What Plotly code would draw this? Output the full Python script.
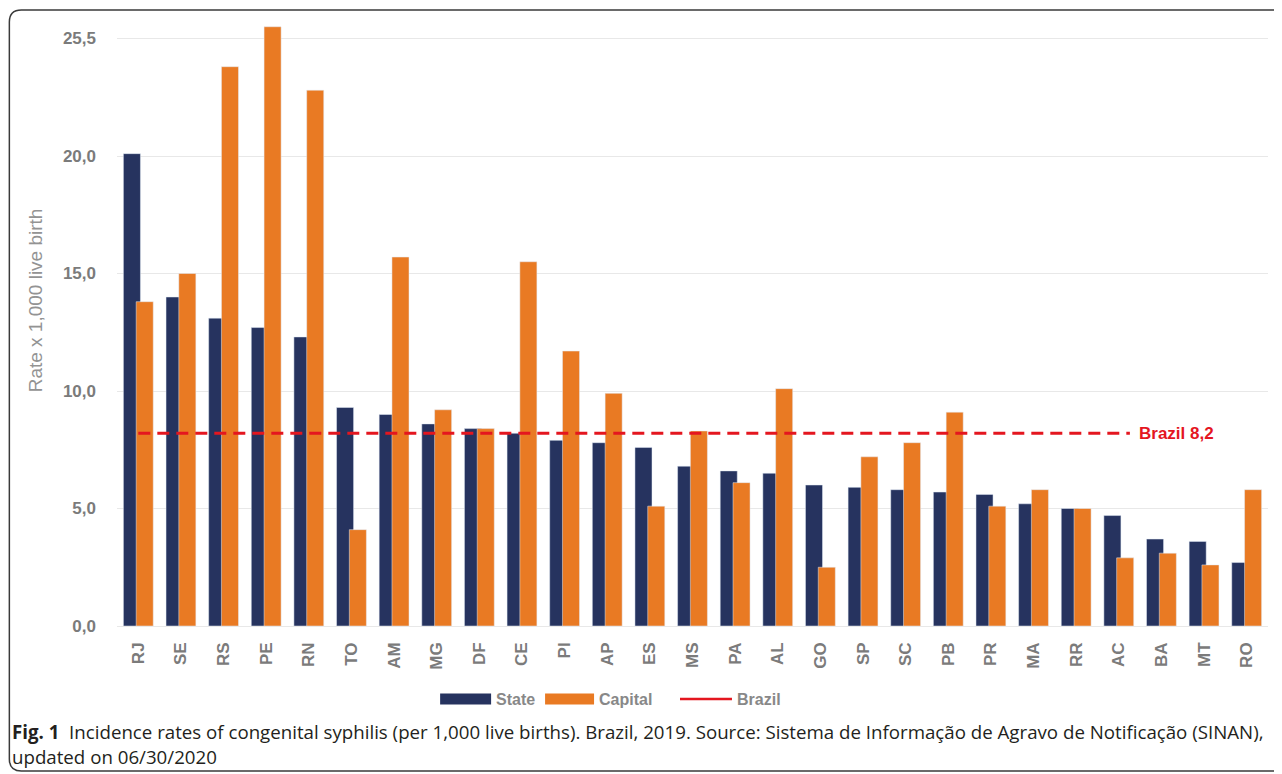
import plotly.graph_objects as go

# ---------------- data ----------------
states = ["RJ", "SE", "RS", "PE", "RN", "TO", "AM", "MG", "DF", "CE", "PI", "AP", "ES", "MS",
          "PA", "AL", "GO", "SP", "SC", "PB", "PR", "MA", "RR", "AC", "BA", "MT", "RO"]
state_rate = [20.1, 14.0, 13.1, 12.7, 12.3, 9.3, 9.0, 8.6, 8.4, 8.2, 7.9, 7.8, 7.6, 6.8,
              6.6, 6.5, 6.0, 5.9, 5.8, 5.7, 5.6, 5.2, 5.0, 4.7, 3.7, 3.6, 2.7]
capital_rate = [13.8, 15.0, 23.8, 25.5, 22.8, 4.1, 15.7, 9.2, 8.4, 15.5, 11.7, 9.9, 5.1, 8.3,
                6.1, 10.1, 2.5, 7.2, 7.8, 9.1, 5.1, 5.8, 5.0, 2.9, 3.1, 2.6, 5.8]
brazil_rate = 8.2
brazil_label = "Brazil 8,2"
ytick_vals = [0, 5, 10, 15, 20, 25]
ytick_text = ["0,0", "5,0", "10,0", "15,0", "20,0", "25,5"]
series_names = ["State", "Capital", "Brazil"]
y_title = "Rate x 1,000 live birth"
caption_1 = ("<b>Fig. 1</b>  Incidence rates of congenital syphilis (per 1,000 live births). Brazil, 2019. "
             "Source: Sistema de Informação de Agravo de Notificação (SINAN),")
caption_2 = "updated on 06/30/2020"

# ---------------- style ----------------
PAGE_W, PAGE_H = 1282, 774
OFF = 8  # browser body margin
W, H = PAGE_W - OFF, PAGE_H - OFF
# plot area in page pixel coordinates
L, R, T, B = 116.7, 1268.3, 10.0, 626.0
NAVY = "#26335f"
ORANGE = "#e97a23"
RED = "#e4161f"
TICK = "#7b7b7b"
FONT = "Liberation Sans, Arial, sans-serif"
CAPFONT = "Open Sans, sans-serif"


def px(xp):
    return (xp - L) / (R - L)


def py(yp):
    return (B - yp) / (B - T)


fig = go.Figure()
fig.add_trace(go.Bar(x=states, y=state_rate, name=series_names[0], marker_color=NAVY,
                     offset=-0.35, width=0.4, showlegend=False))
fig.add_trace(go.Bar(x=states, y=capital_rate, name=series_names[1], marker_color=ORANGE,
                     offset=-0.05, width=0.4, showlegend=False))

# Brazil reference line
fig.add_shape(type="line", xref="x", yref="y", x0=0, x1=23.26, y0=brazil_rate, y1=brazil_rate,
              line=dict(color=RED, width=3, dash="12px,7px"))
fig.add_annotation(x=23.26, y=brazil_rate, xref="x", yref="y", text="<b>" + brazil_label + "</b>",
                   showarrow=False, xanchor="left", yanchor="middle", xshift=7,
                   font=dict(family=FONT, size=17, color=RED))

# y axis title
fig.add_annotation(x=px(35), y=py(300), xref="paper", yref="paper", text=y_title,
                   showarrow=False, textangle=-90, xanchor="center", yanchor="middle",
                   font=dict(family=FONT, size=19, color="#939393"))

# custom legend
leg_y = py(699)
fig.add_shape(type="rect", xref="paper", yref="paper", x0=px(440), x1=px(491), y0=py(693.5), y1=py(704.5),
              fillcolor=NAVY, line=dict(width=0))
fig.add_annotation(x=px(494), y=leg_y, xref="paper", yref="paper", text="<b>" + series_names[0] + "</b>",
                   showarrow=False, xanchor="left", yanchor="middle", font=dict(family=FONT, size=16, color="#888888"))
fig.add_shape(type="rect", xref="paper", yref="paper", x0=px(545), x1=px(594), y0=py(693.5), y1=py(704.5),
              fillcolor=ORANGE, line=dict(width=0))
fig.add_annotation(x=px(597), y=leg_y, xref="paper", yref="paper", text="<b>" + series_names[1] + "</b>",
                   showarrow=False, xanchor="left", yanchor="middle", font=dict(family=FONT, size=16, color="#888888"))
fig.add_shape(type="line", xref="paper", yref="paper", x0=px(680), x1=px(732), y0=leg_y, y1=leg_y,
              line=dict(color=RED, width=2.5))
fig.add_annotation(x=px(735), y=leg_y, xref="paper", yref="paper", text="<b>" + series_names[2] + "</b>",
                   showarrow=False, xanchor="left", yanchor="middle", font=dict(family=FONT, size=16, color="#888888"))

# caption
fig.add_annotation(x=px(10), y=py(731), xref="paper", yref="paper", text=caption_1, showarrow=False,
                   xanchor="left", yanchor="middle", font=dict(family=CAPFONT, size=18.7, color="#231f20"))
fig.add_annotation(x=px(10), y=py(757), xref="paper", yref="paper", text=caption_2, showarrow=False,
                   xanchor="left", yanchor="middle", font=dict(family=CAPFONT, size=18.7, color="#231f20"))

# rounded frame (left edge kept inside the figure)
x0, y0, x1, y1, r = 9, 10, 1300, 771, 12
path = (f"M {px(x0 + r)} {py(y0)} L {px(x1)} {py(y0)} L {px(x1)} {py(y1)} L {px(x0 + r)} {py(y1)} "
        f"Q {px(x0)} {py(y1)} {px(x0)} {py(y1 - r)} L {px(x0)} {py(y0 + r)} "
        f"Q {px(x0)} {py(y0)} {px(x0 + r)} {py(y0)} Z")
fig.add_shape(type="path", xref="paper", yref="paper", path=path, line=dict(color="#3a3a3a", width=1.5))

fig.update_layout(
    width=W, height=H,
    margin=dict(l=L - OFF, r=PAGE_W - R, t=T - OFF, b=PAGE_H - B, pad=0),
    barmode="overlay",
    plot_bgcolor="white", paper_bgcolor="white",
    showlegend=False,
    font=dict(family=FONT, color=TICK),
)
fig.update_xaxes(type="category", range=[-0.5, 26.5], tickangle=-90, showgrid=False, showline=False,
                 ticks="", ticklabelstandoff=12,
                 tickfont=dict(family=FONT, size=17, color=TICK, weight="bold"))
fig.update_yaxes(range=[0, (B - T) / 23.5], tickvals=ytick_vals, ticktext=ytick_text,
                 showgrid=True, gridcolor="#e8e8e8", gridwidth=1, zeroline=True, zerolinecolor="#e8e8e8",
                 zerolinewidth=1, showline=False, ticks="", ticklabelstandoff=20,
                 tickfont=dict(family=FONT, size=17, color=TICK, weight="bold"))

fig.write_html("out.html")
